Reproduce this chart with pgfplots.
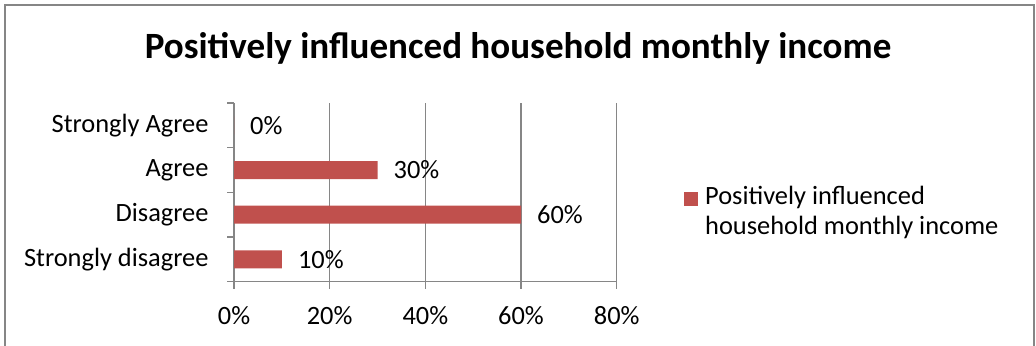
\documentclass[border=0pt]{standalone}
\usepackage{fontspec}
\setmainfont{Carlito}
\usepackage{pgfplots}
\pgfplotsset{compat=1.18}
\definecolor{barred}{HTML}{C0504D}
\definecolor{gridgray}{HTML}{868686}
\begin{document}
\begin{tikzpicture}
\useasboundingbox (0,0) rectangle (1036bp,346bp);
\draw[gridgray, line width=2bp] (4.7bp,-10bp) -- (4.7bp,341bp) -- (1033.5bp,341bp) -- (1033.5bp,-10bp);
\node[font=\fontsize{37.2}{42}\selectfont\bfseries, anchor=base] at (518bp,287.7bp) {Positively influenced household monthly income};
\begin{axis}[
  at={(234bp,64.3bp)}, anchor=south west,
  scale only axis, width=382.7bp, height=178.7bp,
  xbar, bar width=18bp,
  xmin=0, xmax=80, ymin=-0.5, ymax=3.5,
  axis x line*=bottom, axis y line*=left,
  axis line style={gridgray, line width=1.3bp},
  xtick={0,20,40,60,80},
  xticklabels={0\%,20\%,40\%,60\%,80\%},
  ytick={-0.5,0.5,1.5,2.5,3.5},
  yticklabels={Strongly disagree,Disagree,Agree,Strongly Agree,{}},
  tick align=outside,
  major tick length=7bp,
  tick style={draw=gridgray, line width=1.3bp},
  xmajorgrids, major grid style={gridgray, line width=1.3bp},
  tick label style={font=\fontsize{26.5}{30}\selectfont, text=black},
  yticklabel style={xshift=-15bp, yshift=22.34bp},
  xticklabel style={yshift=-14bp},
  /pgf/number format/assume math mode=true,
  point meta=x,
  nodes near coords={\pgfmathprintnumber{\pgfplotspointmeta}\%},
  nodes near coords style={anchor=west, inner sep=0pt, xshift=16bp, font=\fontsize{26.5}{30}\selectfont, text=black},
  legend style={draw=none, fill=none, at={(axis description cs:1.168,0.396)}, anchor=west,
    column sep=6bp,
    nodes={align=left, font=\fontsize{26.5}{30}\selectfont, inner sep=1bp}},
  legend image code/.code={\fill[barred] (0bp,5bp) rectangle (14bp,19bp);},
  clip=false,
]
\addplot[fill=barred, draw=none] coordinates {(10,0) (60,1) (30,2) (0,3)};
\addlegendentry{Positively influenced\\household monthly income}
\end{axis}
\end{tikzpicture}
\end{document}
